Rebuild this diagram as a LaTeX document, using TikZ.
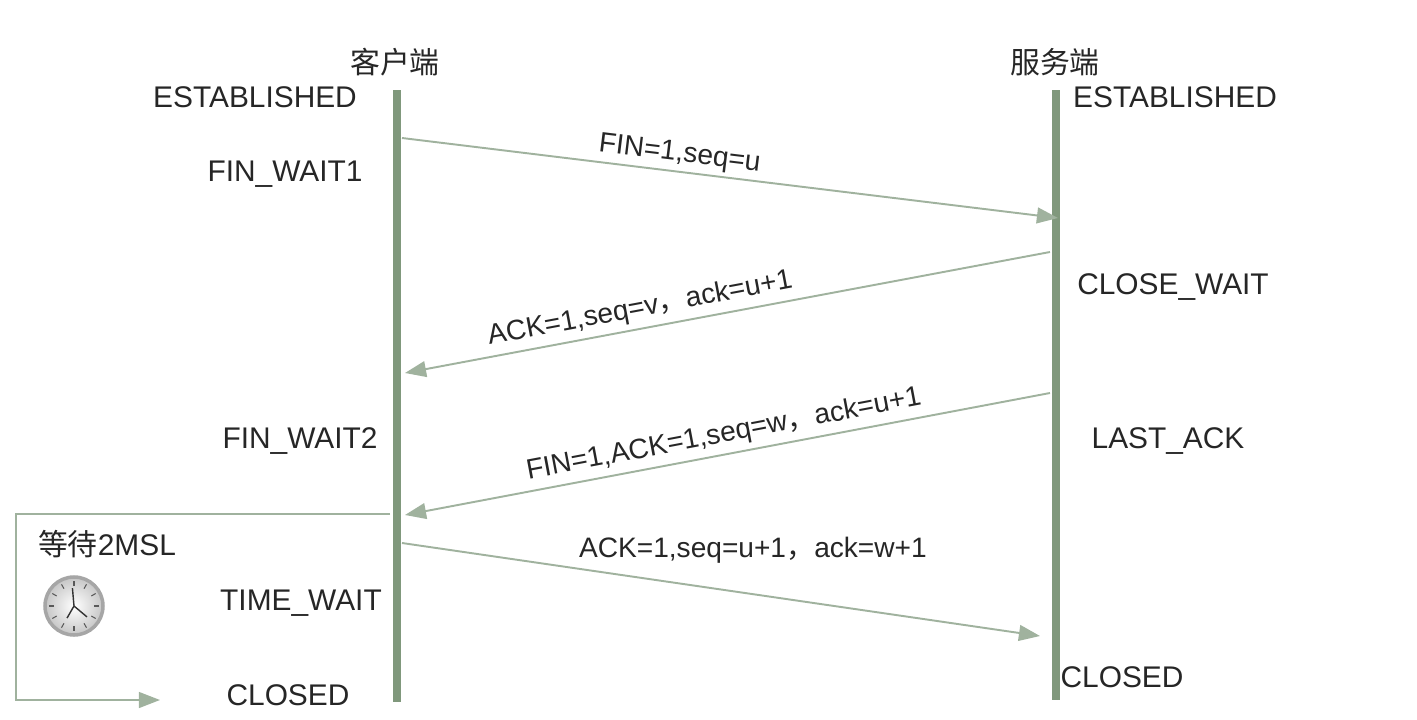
\documentclass[tikz,border=0pt]{standalone}
\usepackage{fontspec}
\setmainfont{Liberation Sans}
\newfontfamily\cjk{Noto Sans CJK SC}
\usetikzlibrary{arrows.meta,positioning}
\definecolor{lifegreen}{RGB}{128,152,124}
\definecolor{msggreen}{RGB}{160,178,158}
\tikzset{
  life/.style={line width=4.5pt,draw=lifegreen},
  msg/.style={line width=1.1pt,draw=msggreen,-{Triangle[length=12pt,width=9pt]}},
  state/.style={font=\fontsize{17}{20}\selectfont,text=black!85,inner sep=0pt},
  lbl/.style={font=\fontsize{16}{19}\selectfont,text=black!85,inner sep=3pt},
  head/.style={font=\cjk\fontsize{17}{20}\selectfont,text=black!85,inner sep=0pt}
}
\begin{document}
\begin{tikzpicture}[x=0.02cm,y=-0.02cm]
	\useasboundingbox (0,0) rectangle (1417,720);
	% lifelines
	\coordinate (ctop) at (397,90);
	\coordinate (cbot) at (397,702);
	\coordinate (stop) at (1056,90);
	\coordinate (sbot) at (1056,700);
	\draw [life] (ctop) -- (cbot);
	\draw [life] (stop) -- (sbot);
	\node (client) [head] at (395,62) {客户端};
	\node (server) [head] at (1055,62) {服务端};
	% states
	\node (cest) [state] at (255,97) {ESTABLISHED};
	\node (sest) [state] at (1175,97) {ESTABLISHED};
	\node (fw1) [state] at (285,174) {FIN\_WAIT1};
	\node (cw) [state] at (1173,287) {CLOSE\_WAIT};
	\node (fw2) [state] at (300,441) {FIN\_WAIT2};
	\node (la) [state] at (1168,441) {LAST\_ACK};
	\node (tw) [state] at (301,603) {TIME\_WAIT};
	\node (cclosed) [state] at (288,695) {CLOSED};
	\node (sclosed) [state] at (1122,677) {CLOSED};
	\node (wait) [state] at (107,544) {{\cjk 等待}2MSL};
	% messages
	\coordinate (m1a) at (402,138);
	\coordinate (m1b) at (1058,218);
	\coordinate (m2a) at (1050,252);
	\coordinate (m2b) at (405,373);
	\coordinate (m3a) at (1050,393);
	\coordinate (m3b) at (405,515);
	\coordinate (m4a) at (402,543);
	\coordinate (m4b) at (1040,636);
	\draw [msg] (m1a) -- node[lbl, pos=0.42, sloped, above=-1pt] {FIN=1,seq=u} (m1b);
	\draw [msg] (m2a) -- node[lbl, pos=0.63, sloped, above] {ACK=1,seq=v{\cjk ，}ack=u+1} (m2b);
	\draw [msg] (m3a) -- node[lbl, pos=0.5, sloped, above] {FIN=1,ACK=1,seq=w{\cjk ，}ack=u+1} (m3b);
	\draw [msg] (m4a) -- node[lbl, pos=0.55, above=14pt] {ACK=1,seq=u+1{\cjk ，}ack=w+1} (m4b);
	% 2MSL loop
	\coordinate (loopa) at (390,514);
	\coordinate (loopb) at (160,700);
	\draw [msg] (loopa) -- (16,514) |- (loopb);
	% clock
	\node (clock) [circle, minimum size=58*0.02cm, inner sep=0pt, draw=gray!70, line width=2pt, inner color=white, outer color=gray!45] at (74,606) {};
	\foreach \a in {0,30,...,330}
		\draw [gray!70!black, line width=0.6pt] (clock.center) ++(\a:20) -- ++(\a:5);
	\draw [black!80, line width=0.8pt] (clock.center) -- ++(-95:18);
	\draw [black!80, line width=0.8pt] (clock.center) -- ++(120:14);
	\draw [black!80, line width=0.8pt] (clock.center) -- ++(40:17);
\end{tikzpicture}
\end{document}
